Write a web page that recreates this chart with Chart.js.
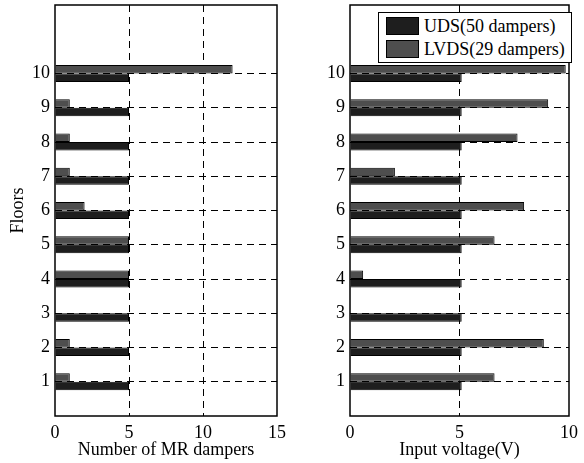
<!DOCTYPE html>
<html>
<head>
<meta charset="utf-8">
<script src="https://cdn.jsdelivr.net/npm/chart.js@4"></script>
<style>
  body { margin: 0; background: #fff; }
  #wrap { position: relative; width: 584px; height: 463px; }
  canvas { position: absolute; top: 0; }
  #c1 { left: 0; }
  #c2 { left: 292px; }
  .legend {
    position: absolute; left: 378px; top: 12px; width: 192px; height: 49px;
    border: 1px solid #000; background: #fff;
    font: 18px 'Liberation Serif', 'Times New Roman', serif;
  }
  .row { position: absolute; left: 7px; height: 18px; line-height: 18px; white-space: nowrap; }
  .sw { display: inline-block; width: 31px; height: 16px; border: 1px solid #000; vertical-align: top; margin-right: 5px; }
</style>
</head>
<body>
<div id="wrap">
  <canvas id="c1" width="292" height="463"></canvas>
  <canvas id="c2" width="292" height="463"></canvas>
  <div class="legend">
    <div class="row" style="top:4px"><span class="sw" id="sw1"></span><span id="lab1"></span></div>
    <div class="row" style="top:27px"><span class="sw" id="sw2"></span><span id="lab2"></span></div>
  </div>
</div>
<script>
const floors = [1, 2, 3, 4, 5, 6, 7, 8, 9, 10];
const seriesNames = ["UDS(50 dampers)", "LVDS(29 dampers)"];
// number of MR dampers per floor
const udsCount = [5, 5, 5, 5, 5, 5, 5, 5, 5, 5];
const lvdsCount = [1, 1, 0, 5, 5, 2, 1, 1, 1, 12];
// input voltage per floor (V)
const udsVolt = [5.1, 5.1, 5.1, 5.1, 5.1, 5.1, 5.1, 5.1, 5.1, 5.1];
const lvdsVolt = [6.6, 8.85, 0, 0.6, 6.6, 7.95, 2.05, 7.65, 9.05, 9.85];

const udsColor = "#1e1e1e";
const lvdsColor = "#4e4e4e";
const serif = "'Liberation Serif', 'Times New Roman', serif";

document.getElementById("sw1").style.background = udsColor;
document.getElementById("sw2").style.background = lvdsColor;
document.getElementById("lab1").textContent = seriesNames[0];
document.getElementById("lab2").textContent = seriesNames[1];

// draws the box round the plot area
const frame = {
    id: "frame",
    afterDraw(chart) {
        const a = chart.chartArea;
        const ctx = chart.ctx;
        ctx.save();
        ctx.strokeStyle = "#000";
        ctx.lineWidth = 1.5;
        ctx.strokeRect(a.left, a.top, a.right - a.left, a.bottom - a.top);
        ctx.restore();
    }
};

function makeChart(id, uds, lvds, xMax, xTitle, yTitle, yWidth, padRight) {
    const pts = arr => arr.map((v, i) => ({ x: v, y: floors[i] }));
    new Chart(id, {
        type: "bar",
        data: {
            datasets: [
                { label: seriesNames[1], data: pts(lvds), backgroundColor: lvdsColor, borderColor: "#000", borderWidth: 1 },
                { label: seriesNames[0], data: pts(uds), backgroundColor: udsColor, borderColor: "#000", borderWidth: 1 }
            ]
        },
        options: {
            indexAxis: "y",
            responsive: false,
            animation: false,
            categoryPercentage: 0.5,
            barPercentage: 1,
            layout: { padding: { top: 5, right: padRight, bottom: 0, left: 0 } },
            plugins: { legend: { display: false }, tooltip: { enabled: false } },
            scales: {
                x: {
                    type: "linear",
                    min: 0, max: xMax,
                    afterFit: s => { s.height = 47; },
                    ticks: { stepSize: 5, padding: 6, color: "#000", font: { family: serif, size: 18 } },
                    grid: {
                        drawTicks: false,
                        color: c => (c.tick.value > 0 && c.tick.value < xMax) ? "#000" : "rgba(0,0,0,0)",
                        lineWidth: 1
                    },
                    border: { display: false, dash: [7, 5] },
                    title: { display: true, text: xTitle, color: "#000", font: { family: serif, size: 18 }, padding: { top: 0, bottom: 2 } }
                },
                y: {
                    type: "linear",
                    min: 0, max: 12,
                    offset: false,
                    afterBuildTicks: s => { s.ticks = floors.map(v => ({ value: v })); },
                    afterFit: s => { s.width = yWidth; s.paddingTop = 0; s.paddingBottom = 0; },
                    ticks: { padding: 5, color: "#000", font: { family: serif, size: 18 } },
                    grid: { offset: false, drawTicks: false, color: "#000", lineWidth: 1 },
                    border: { display: false, dash: [7, 5] },
                    title: { display: !!yTitle, text: yTitle, color: "#000", font: { family: serif, size: 18 }, padding: { top: 7, bottom: 0 } }
                }
            }
        },
        plugins: [frame]
    });
}

makeChart("c1", udsCount, lvdsCount, 15, "Number of MR dampers", "Floors", 55, 12);
makeChart("c2", udsVolt, lvdsVolt, 10, "Input voltage(V)", "", 58, 9);
</script>
</body>
</html>
